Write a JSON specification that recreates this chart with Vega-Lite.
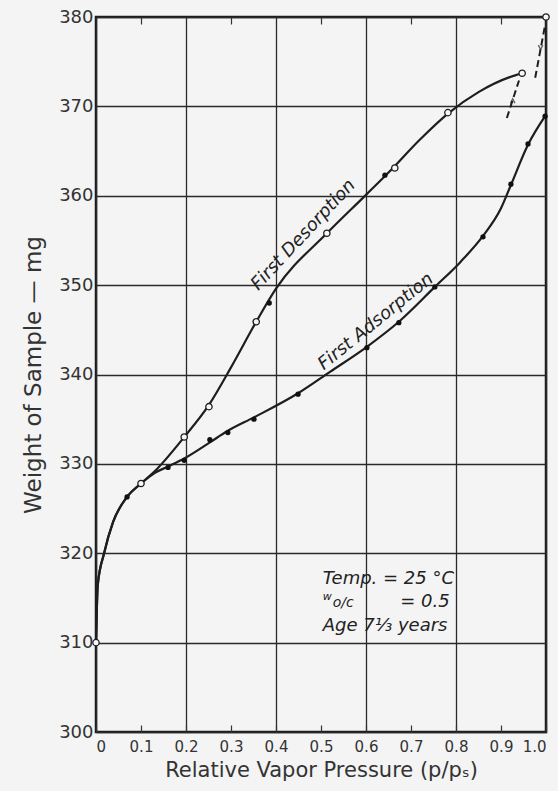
{
  "$schema": "https://vega.github.io/schema/vega-lite/v6.json",
  "width": 450,
  "height": 715,
  "autosize": {"type": "none"},
  "padding": {"left": 96, "top": 17, "right": 12, "bottom": 59},
  "background": "#f4f4f4",
  "config": {
    "view": {"stroke": "#1a1a1a", "strokeWidth": 2.5},
    "font": "DejaVu Sans",
    "axis": {"labelFont": "DejaVu Sans", "titleFont": "DejaVu Sans", "labelColor": "#333", "titleColor": "#333", "titleFontWeight": "normal", "gridColor": "#2a2a2a", "gridWidth": 1.3, "gridOpacity": 1, "domain": false}
  },
  "resolve": {"axis": {"x": "independent"}},
  "datasets": {
    "ads": [
      {"p": 0, "w": 310}, {"p": 0.004, "w": 316.5}, {"p": 0.018, "w": 320}, {"p": 0.038, "w": 323.5},
      {"p": 0.069, "w": 326.3}, {"p": 0.1, "w": 327.8}, {"p": 0.131, "w": 329.0}, {"p": 0.16, "w": 329.7},
      {"p": 0.196, "w": 330.6}, {"p": 0.253, "w": 332.4}, {"p": 0.293, "w": 333.7}, {"p": 0.351, "w": 335.2},
      {"p": 0.449, "w": 337.9}, {"p": 0.52, "w": 340.3}, {"p": 0.602, "w": 343.1}, {"p": 0.673, "w": 345.9},
      {"p": 0.753, "w": 349.8}, {"p": 0.81, "w": 352.6}, {"p": 0.86, "w": 355.5}, {"p": 0.9, "w": 358.6},
      {"p": 0.922, "w": 361.2}, {"p": 0.96, "w": 365.7}, {"p": 0.998, "w": 368.9}
    ],
    "des": [
      {"p": 0, "w": 310}, {"p": 0.004, "w": 316.5}, {"p": 0.018, "w": 320}, {"p": 0.038, "w": 323.5},
      {"p": 0.069, "w": 326.3}, {"p": 0.1, "w": 327.8}, {"p": 0.131, "w": 329.2}, {"p": 0.196, "w": 333.0},
      {"p": 0.251, "w": 336.6}, {"p": 0.3, "w": 340.8}, {"p": 0.356, "w": 345.9}, {"p": 0.4, "w": 349.6},
      {"p": 0.513, "w": 355.8}, {"p": 0.6, "w": 360.1}, {"p": 0.65, "w": 362.6}, {"p": 0.72, "w": 366.3},
      {"p": 0.782, "w": 369.2}, {"p": 0.85, "w": 371.6}, {"p": 0.933, "w": 373.5}, {"p": 0.947, "w": 373.7}
    ],
    "pts": [
      {"p": 0.069, "w": 326.3, "kind": "filled"}, {"p": 0.16, "w": 329.6, "kind": "filled"},
      {"p": 0.196, "w": 330.4, "kind": "filled"}, {"p": 0.253, "w": 332.7, "kind": "filled"},
      {"p": 0.293, "w": 333.5, "kind": "filled"}, {"p": 0.351, "w": 335.0, "kind": "filled"},
      {"p": 0.449, "w": 337.8, "kind": "filled"}, {"p": 0.602, "w": 343.0, "kind": "filled"},
      {"p": 0.673, "w": 345.8, "kind": "filled"}, {"p": 0.753, "w": 349.8, "kind": "filled"},
      {"p": 0.86, "w": 355.4, "kind": "filled"}, {"p": 0.922, "w": 361.3, "kind": "filled"},
      {"p": 0.96, "w": 365.8, "kind": "filled"}, {"p": 0.998, "w": 368.9, "kind": "filled"},
      {"p": 0.385, "w": 348.0, "kind": "filled"}, {"p": 0.642, "w": 362.3, "kind": "filled"},
      {"p": 0, "w": 310, "kind": "open"}, {"p": 0.1, "w": 327.8, "kind": "open"},
      {"p": 0.196, "w": 333.0, "kind": "open"}, {"p": 0.251, "w": 336.4, "kind": "open"},
      {"p": 0.356, "w": 345.9, "kind": "open"}, {"p": 0.513, "w": 355.8, "kind": "open"},
      {"p": 0.664, "w": 363.1, "kind": "open"}, {"p": 0.782, "w": 369.3, "kind": "open"},
      {"p": 0.947, "w": 373.7, "kind": "open"}, {"p": 1.0, "w": 380, "kind": "open"}
    ],
    "dash": [
      {"seg": "a", "p": 0.998, "w": 379.1}, {"seg": "a", "p": 0.976, "w": 373.2},
      {"seg": "b", "p": 0.913, "w": 368.7}, {"seg": "b", "p": 0.94, "w": 372.9}
    ],
    "arrows": [
      {"p": 0.988, "w": 376.6, "dir": "down"}, {"p": 0.926, "w": 370.6, "dir": "up"}
    ],
    "labels": [
      {"p": 0.461, "w": 355.6, "t": "First Desorption", "a": -47},
      {"p": 0.622, "w": 345.9, "t": "First Adsorption", "a": -39}
    ],
    "notes": [
      {"p": 0.504, "w": 316.6, "t": "Temp. = 25 °C", "s": 18},
      {"p": 0.504, "w": 314.8, "t": "w", "s": 11},
      {"p": 0.526, "w": 314.0, "t": "o/c", "s": 14},
      {"p": 0.676, "w": 314.0, "t": "= 0.5", "s": 18},
      {"p": 0.504, "w": 311.3, "t": "Age 7⅓ years", "s": 18}
    ]
  },
  "layer": [
    {
      "data": {"name": "ads"},
      "mark": {"type": "line", "interpolate": "monotone", "color": "#1e1e1e", "strokeWidth": 2.2},
      "encoding": {
        "x": {"field": "p", "type": "quantitative", "title": "Relative Vapor Pressure (p/pₛ)",
          "scale": {"domain": [0, 1], "nice": false, "zero": false},
          "axis": {"orient": "bottom", "values": [0, 0.1, 0.2, 0.3, 0.4, 0.5, 0.6, 0.7, 0.8, 0.9, 1.0],
            "labelExpr": "datum.value == 0 ? '0' : format(datum.value, '.1f')",
            "labelFontSize": 15, "labelPadding": 14, "tickSize": -7, "tickColor": "#333", "tickWidth": 1.2,
            "titleFontSize": 21, "titlePadding": 5,
            "gridOpacity": {"condition": {"test": "round(datum.value * 10) % 2 == 0", "value": 1}, "value": 0}}},
        "y": {"field": "w", "type": "quantitative", "title": "Weight of Sample — mg",
          "scale": {"domain": [300, 380], "nice": false, "zero": false},
          "axis": {"values": [300, 310, 320, 330, 340, 350, 360, 370, 380], "labelFontSize": 18, "labelPadding": 3,
            "ticks": false, "titleFontSize": 23, "titlePadding": 13}}
      }
    },
    {
      "data": {"name": "des"},
      "mark": {"type": "line", "interpolate": "monotone", "color": "#1e1e1e", "strokeWidth": 2.2},
      "encoding": {
        "x": {"field": "p", "type": "quantitative",
          "axis": {"orient": "top", "values": [0.1, 0.3, 0.5, 0.7, 0.9], "labels": false, "title": null, "grid": false,
            "tickSize": -7, "tickColor": "#333", "tickWidth": 1.2}},
        "y": {"field": "w", "type": "quantitative"}
      }
    },
    {
      "data": {"name": "dash"},
      "mark": {"type": "line", "color": "#1e1e1e", "strokeWidth": 2, "strokeDash": [7, 4]},
      "encoding": {
        "x": {"field": "p", "type": "quantitative", "axis": null},
        "y": {"field": "w", "type": "quantitative"},
        "detail": {"field": "seg"}}
    },
    {
      "data": {"name": "arrows"},
      "mark": {"type": "point", "filled": false, "color": "#1e1e1e", "strokeWidth": 1.3, "size": 20},
      "encoding": {
        "x": {"field": "p", "type": "quantitative", "axis": null},
        "y": {"field": "w", "type": "quantitative"},
        "shape": {"field": "dir", "type": "nominal", "legend": null,
          "scale": {"domain": ["down", "up"], "range": ["M-1,-1L0,1L1,-1", "M-1,1L0,-1L1,1"]}}
      }
    },
    {
      "data": {"name": "pts"},
      "transform": [{"filter": "datum.kind == 'filled'"}],
      "mark": {"type": "circle", "color": "#111", "size": 28, "opacity": 1},
      "encoding": {
        "x": {"field": "p", "type": "quantitative", "axis": null},
        "y": {"field": "w", "type": "quantitative"}}
    },
    {
      "data": {"name": "pts"},
      "transform": [{"filter": "datum.kind == 'open'"}],
      "mark": {"type": "point", "shape": "circle", "filled": true, "fill": "#f8f8f8", "stroke": "#1e1e1e", "strokeWidth": 1.3, "size": 40, "opacity": 1},
      "encoding": {
        "x": {"field": "p", "type": "quantitative", "axis": null},
        "y": {"field": "w", "type": "quantitative"}}
    },
    {
      "data": {"name": "labels"},
      "mark": {"type": "text", "font": "DejaVu Sans", "fontStyle": "italic", "fontSize": 18, "color": "#222", "align": "center", "baseline": "middle"},
      "encoding": {
        "x": {"field": "p", "type": "quantitative", "axis": null},
        "y": {"field": "w", "type": "quantitative"},
        "text": {"field": "t"}, "angle": {"field": "a", "type": "quantitative", "scale": null}}
    },
    {
      "data": {"name": "notes"},
      "mark": {"type": "text", "font": "DejaVu Sans", "fontStyle": "italic", "color": "#222", "align": "left", "baseline": "alphabetic"},
      "encoding": {
        "x": {"field": "p", "type": "quantitative", "axis": null},
        "y": {"field": "w", "type": "quantitative"},
        "text": {"field": "t"}, "size": {"field": "s", "type": "quantitative", "scale": null}}
    }
  ]
}
